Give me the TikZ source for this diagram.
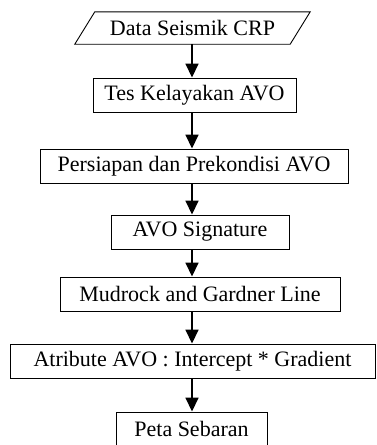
\documentclass[tikz,border=0pt]{standalone}
\usepackage{fontspec}
\setmainfont{Liberation Serif}
\usetikzlibrary{arrows.meta}
\begin{document}
\begin{tikzpicture}[x=1pt,y=-1pt,
  label font/.style={font=\fontsize{22}{26}\selectfont},
  stepbox/.style={draw, line width=0.9pt, inner sep=0pt, label font},
  flow/.style={line width=1.6pt, -{Triangle[length=14pt,width=13pt]}}]
\useasboundingbox (0,0) rectangle (376,445);
% input parallelogram: text holder plus slanted outline
\node[inner sep=0pt, minimum width=215pt, minimum height=32pt, label font] (d) at (192.5,28) {Data Seismik CRP};
\draw[line width=0.9pt] ([xshift=10pt]d.north west) -- ([xshift=10pt]d.north east)
  -- ([xshift=-10pt]d.south east) -- ([xshift=-10pt]d.south west) -- cycle;
% process boxes
\node[stepbox, minimum width=203pt, minimum height=34pt] (t) at (194.5,95) {Tes Kelayakan AVO};
\node[stepbox, minimum width=308pt, minimum height=34pt] (p) at (194,166) {Persiapan dan Prekondisi AVO};
\node[stepbox, minimum width=178pt, minimum height=34pt] (s) at (200,232) {AVO Signature};
\node[stepbox, minimum width=280pt, minimum height=34pt] (m) at (200,294) {Mudrock and Gardner Line};
\node[stepbox, minimum width=365pt, minimum height=34pt] (a) at (192.5,361) {Atribute AVO : Intercept * Gradient};
\node[stepbox, minimum width=151pt, minimum height=33pt] (e) at (191.5,428.5) {Peta Sebaran};
% common axis of the connectors
\coordinate (ax) at (192,0);
\draw[flow] (d.south -| ax) -- (t.north -| ax);
\draw[flow] (t.south -| ax) -- (p.north -| ax);
\draw[flow] (p.south -| ax) -- (s.north -| ax);
\draw[flow] (s.south -| ax) -- (m.north -| ax);
\draw[flow] (m.south -| ax) -- (a.north -| ax);
\draw[flow] (a.south -| ax) -- (e.north -| ax);
\end{tikzpicture}
\end{document}
